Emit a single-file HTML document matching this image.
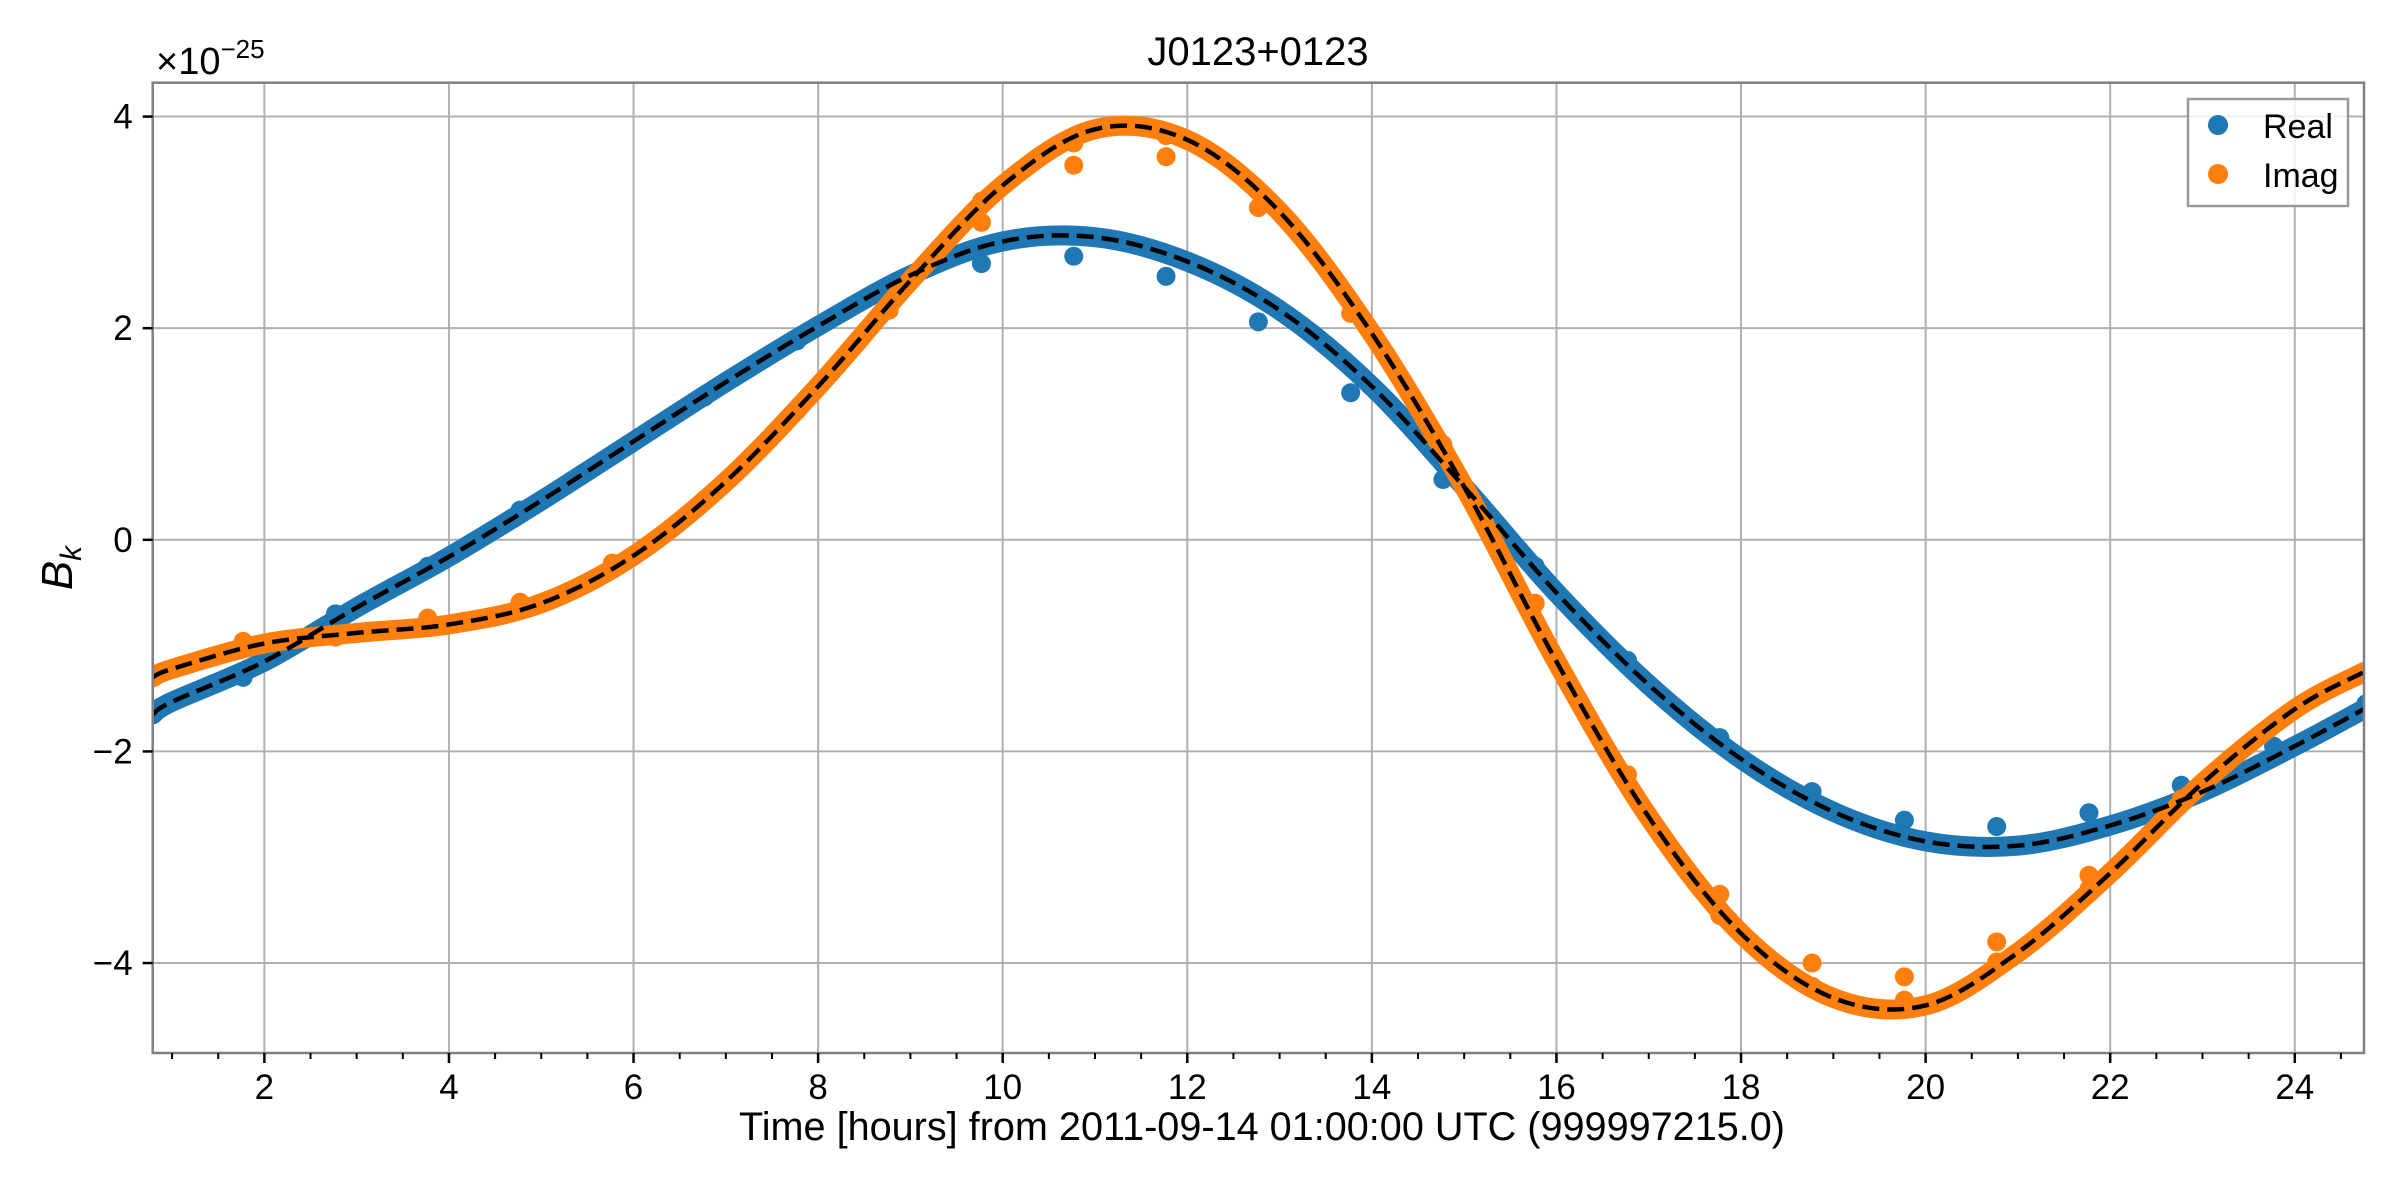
<!DOCTYPE html>
<html><head><meta charset="utf-8"><style>
html,body{margin:0;padding:0;background:#fff}
svg{display:block;font-family:"Liberation Sans",sans-serif}
</style></head><body>
<svg id="chart" width="2400" height="1200" viewBox="0 0 2400 1200" xmlns="http://www.w3.org/2000/svg">
<rect width="2400" height="1200" fill="#fff"/>
<g id="grid"></g>
<g id="series"></g>
<rect x="152.7" y="82.7" width="2211.3" height="970.3" fill="none" stroke="#808080" stroke-width="2.5"/>
<g id="ticks"></g>
<text x="1258" y="65" font-size="40" text-anchor="middle">J0123+0123</text>
<text x="1262" y="1140" font-size="40" text-anchor="middle" textLength="1046" lengthAdjust="spacingAndGlyphs">Time [hours] from 2011-09-14 01:00:00 UTC (999997215.0)</text>
<text transform="translate(72,568) rotate(-90)" font-size="44" text-anchor="middle" font-style="italic">B<tspan font-size="30" dy="9">k</tspan></text>
<text x="156" y="74" font-size="38">×10<tspan font-size="26" dy="-16">−25</tspan></text>
<g>
<rect x="2188" y="99" width="160" height="107" fill="#fff" fill-opacity="0.8" stroke="#999" stroke-width="2.5"/>
<circle cx="2218" cy="125" r="10" fill="#1f77b4"/>
<text x="2263" y="138" font-size="34">Real</text>
<circle cx="2218" cy="174" r="10" fill="#ff7f0e"/>
<text x="2263" y="187" font-size="34">Imag</text>
</g>
</svg>
<script>
const curveHours = [0.79,1,2,3,4,5,6,7,8,9,10,11,12,13,14,15,16,17,18,19,20,21,22,23,24,24.75];
const realCurve = [-1.65,-1.53,-1.15,-0.64,-0.16,0.37,0.93,1.49,2.02,2.5,2.82,2.86,2.63,2.17,1.45,0.5,-0.5,-1.37,-2.07,-2.57,-2.85,-2.89,-2.7,-2.38,-1.95,-1.6];
const imagCurveHours = [0.79,1,2,3,4,5,6,7,8,9,10,11,12,13,14,15,16,17,18,19,20,21,22,23,24,24.75];
const imagCurve = [-1.3,-1.22,-0.98,-0.88,-0.8,-0.6,-0.15,0.55,1.45,2.45,3.35,3.88,3.78,3.1,1.95,0.5,-1.15,-2.62,-3.72,-4.33,-4.4,-3.9,-3.15,-2.3,-1.6,-1.25];
const pointHours = [1.77,2.77,3.77,4.77,5.77,6.77,7.77,8.77,9.77,10.77,11.77,12.77,13.77,14.77,15.77,16.77,17.77,18.77,19.77,20.77,21.77,22.77,23.77,24.77];
const realPoints = [-1.3,-0.70,-0.25,0.28,0.80,1.35,1.88,2.35,2.61,2.68,2.49,2.06,1.39,0.57,-0.25,-1.14,-1.87,-2.38,-2.65,-2.71,-2.58,-2.32,-1.95,-1.55];
const imagPoints = [-0.96,-0.92,-0.74,-0.59,-0.22,0.38,1.22,2.17,3.0,3.54,3.62,3.14,2.14,0.9,-0.6,-2.22,-3.35,-4.0,-4.13,-3.8,-3.17,-2.45,-1.75,-1.25];
const imagPoints2 = [null,null,null,null,null,null,null,null,3.2,3.75,3.82,3.3,null,null,null,null,-3.55,-4.22,-4.35,-3.99,-3.3,null,null,null];
const xTicks = [2,4,6,8,10,12,14,16,18,20,22,24];
const yTicks = [-4,-2,0,2,4];
const yTickLabels = ["−4","−2","0","2","4"];

const X0=152.7,X1=2364,Y0=82.7,Y1=1053;
const xmin=0.79,xmax=24.75,ymin=-4.85,ymax=4.32;
const sx=h=>X0+(h-xmin)/(xmax-xmin)*(X1-X0);
const sy=v=>Y1-(v-ymin)/(ymax-ymin)*(Y1-Y0);
const NS="http://www.w3.org/2000/svg";
function mk(tag,attrs,parent){const e=document.createElementNS(NS,tag);for(const k in attrs)e.setAttribute(k,attrs[k]);parent.appendChild(e);return e;}
const grid=document.getElementById('grid'),ticks=document.getElementById('ticks'),series=document.getElementById('series');
xTicks.forEach(t=>{
 const gl=mk('line',{x1:sx(t),x2:sx(t),y1:Y0,y2:Y1,stroke:'#b0b0b0','stroke-width':2},grid);
 
 
 const tk=mk('line',{x1:sx(t),x2:sx(t),y1:Y1,y2:Y1+10,stroke:'#000','stroke-width':2.5},ticks);
 
 
 const tl=mk('text',{x:sx(t),y:Y1+46,'font-size':35,'text-anchor':'middle'},ticks);
 tl.textContent=t;
 
 
});
for(let m=1;m<=24.5;m+=0.5){
 if(Number.isInteger(m/2))continue;
 const mt=mk('line',{x1:sx(m),x2:sx(m),y1:Y1,y2:Y1+6,stroke:'#000','stroke-width':2},ticks);
 
 
}
yTicks.forEach((t,i)=>{
 const gl=mk('line',{x1:X0,x2:X1,y1:sy(t),y2:sy(t),stroke:'#b0b0b0','stroke-width':2},grid);
 
 
 const tk=mk('line',{x1:X0-10,x2:X0,y1:sy(t),y2:sy(t),stroke:'#000','stroke-width':2.5},ticks);
 
 
 const tl=mk('text',{x:X0-20,y:sy(t)+12,'font-size':35,'text-anchor':'end'},ticks);
 tl.textContent=yTickLabels[i];
 
 
});
function smooth(xs,ys){
 const p=xs.map((h,i)=>[sx(h),sy(ys[i])]);
 let d='M'+p[0][0]+','+p[0][1];
 for(let i=0;i<p.length-1;i++){
  const a=p[i-1]||p[i],b=p[i],c=p[i+1],e=p[i+2]||c;
  const c1=[b[0]+(c[0]-a[0])/6,b[1]+(c[1]-a[1])/6],c2=[c[0]-(e[0]-b[0])/6,c[1]-(e[1]-b[1])/6];
  d+=' C'+c1+' '+c2+' '+c;
 }
 return d;
}
const clip=mk('clipPath',{id:'plotclip'},mk('defs',{},series));
mk('rect',{x:X0,y:Y0,width:X1-X0,height:Y1-Y0},clip);
const g=mk('g',{'clip-path':'url(#plotclip)'},series);
const rb=mk('path',{d:smooth(curveHours,realCurve),fill:'none',stroke:'#1f77b4','stroke-width':20,'stroke-linecap':'round'},g);


pointHours.forEach((h,i)=>{
 const c=mk('circle',{cx:sx(h),cy:sy(realPoints[i]),r:9.5,fill:'#1f77b4'},g);
 
 
});
const ib=mk('path',{d:smooth(imagCurveHours,imagCurve),fill:'none',stroke:'#ff7f0e','stroke-width':20,'stroke-linecap':'round'},g);


pointHours.forEach((h,i)=>{
 const c=mk('circle',{cx:sx(h),cy:sy(imagPoints[i]),r:9.5,fill:'#ff7f0e'},g);
 
 
 if(imagPoints2[i]!==null){
  const c2=mk('circle',{cx:sx(h),cy:sy(imagPoints2[i]),r:9.5,fill:'#ff7f0e'},g);
  
  
 }
});
const rd=mk('path',{d:smooth(curveHours,realCurve),fill:'none',stroke:'#000','stroke-width':4.5,'stroke-dasharray':'17 8'},g);


const id=mk('path',{d:smooth(imagCurveHours,imagCurve),fill:'none',stroke:'#000','stroke-width':4.5,'stroke-dasharray':'17 8'},g);


</script>
</body></html>
